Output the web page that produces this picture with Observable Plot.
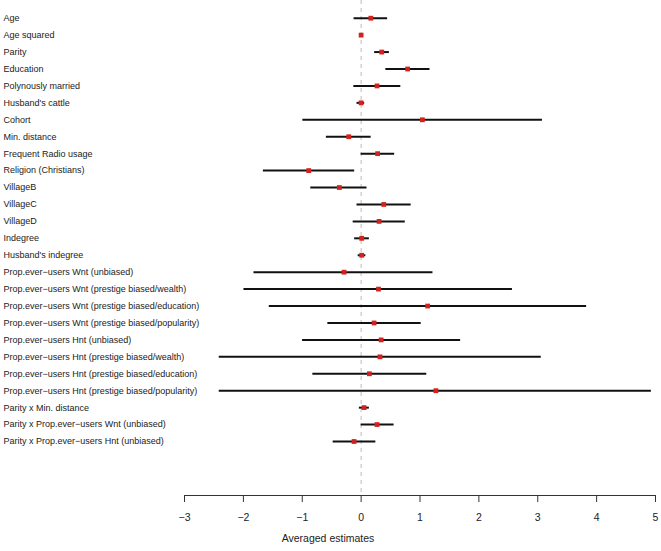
<!DOCTYPE html>
<html>
<head>
<meta charset="utf-8">
<script src="https://cdn.jsdelivr.net/npm/d3@7"></script>
<script src="https://cdn.jsdelivr.net/npm/@observablehq/plot@0.6"></script>
<style>
  html, body { margin: 0; padding: 0; background: #fff; }
  #chart svg { display: block; }
</style>
</head>
<body>
<div id="chart"></div>
<script>
const labels = [
  "Age",
  "Age squared",
  "Parity",
  "Education",
  "Polynously married",
  "Husband's cattle",
  "Cohort",
  "Min. distance",
  "Frequent Radio usage",
  "Religion (Christians)",
  "VillageB",
  "VillageC",
  "VillageD",
  "Indegree",
  "Husband's indegree",
  "Prop.ever\u2212users Wnt (unbiased)",
  "Prop.ever\u2212users Wnt (prestige biased/wealth)",
  "Prop.ever\u2212users Wnt (prestige biased/education)",
  "Prop.ever\u2212users Wnt (prestige biased/popularity)",
  "Prop.ever\u2212users Hnt (unbiased)",
  "Prop.ever\u2212users Hnt (prestige biased/wealth)",
  "Prop.ever\u2212users Hnt (prestige biased/education)",
  "Prop.ever\u2212users Hnt (prestige biased/popularity)",
  "Parity x Min. distance",
  "Parity x Prop.ever\u2212users Wnt (unbiased)",
  "Parity x Prop.ever\u2212users Hnt (unbiased)"
];
const estimates = [0.165, 0.0, 0.35, 0.79, 0.27, 0.0, 1.04, -0.21, 0.28, -0.89, -0.37, 0.385, 0.305, 0.01, 0.01,
  -0.29, 0.295, 1.13, 0.22, 0.34, 0.32, 0.14, 1.27, 0.05, 0.27, -0.12];
const lower = [-0.12, 0.0, 0.23, 0.42, -0.124, -0.07, -0.99, -0.59, 0.0, -1.66, -0.855, -0.07, -0.135, -0.11, -0.05,
  -1.82, -1.99, -1.56, -0.565, -0.995, -2.41, -0.82, -2.41, -0.03, 0.0, -0.475];
const upper = [0.45, 0.0, 0.48, 1.17, 0.674, 0.06, 3.08, 0.17, 0.57, -0.11, 0.10, 0.85, 0.75, 0.14, 0.08,
  1.22, 2.57, 3.83, 1.02, 1.69, 3.06, 1.115, 4.93, 0.14, 0.56, 0.25];
const xTicks = [-3, -2, -1, 0, 1, 2, 3, 4, 5];
const xLabel = "Averaged estimates";

const data = labels.map((name, i) => ({name, est: estimates[i], lo: lower[i], hi: upper[i]}));

const chart = Plot.plot({
  width: 661,
  height: 551,
  marginLeft: 184,
  marginRight: 6,
  marginTop: 0,
  marginBottom: 56,
  style: {fontFamily: "'Liberation Sans', Arial, Helvetica, sans-serif", color: "#222", background: "#fff"},
  x: {domain: [-3, 5]},
  y: {type: "point", domain: labels, padding: 0, round: false, range: [17.7, 441]},
  marks: [
    Plot.ruleX([0], {stroke: "#bdbdbd", strokeDasharray: "4,4", strokeWidth: 1}),
    Plot.ruleY(data, {y: "name", x1: "lo", x2: "hi", stroke: "#111", strokeWidth: 2}),
    Plot.dot(data, {y: "name", x: "est", symbol: "square", r: 2.7, fill: "#d3211d", stroke: null}),
    Plot.axisY({tickSize: 0, tickPadding: 181, textAnchor: "start", fontSize: 9, label: null}),
    Plot.axisX({ticks: xTicks, tickSize: 7, tickPadding: 11, fontSize: 10.5, label: null, stroke: "#333"}),
    Plot.frame({anchor: "bottom", stroke: "#333"}),
    Plot.text([xLabel], {text: d => d, frameAnchor: "bottom", dx: -92, dy: 46, fontSize: 10.5})
  ]
});
document.getElementById("chart").appendChild(chart);
</script>
</body>
</html>
